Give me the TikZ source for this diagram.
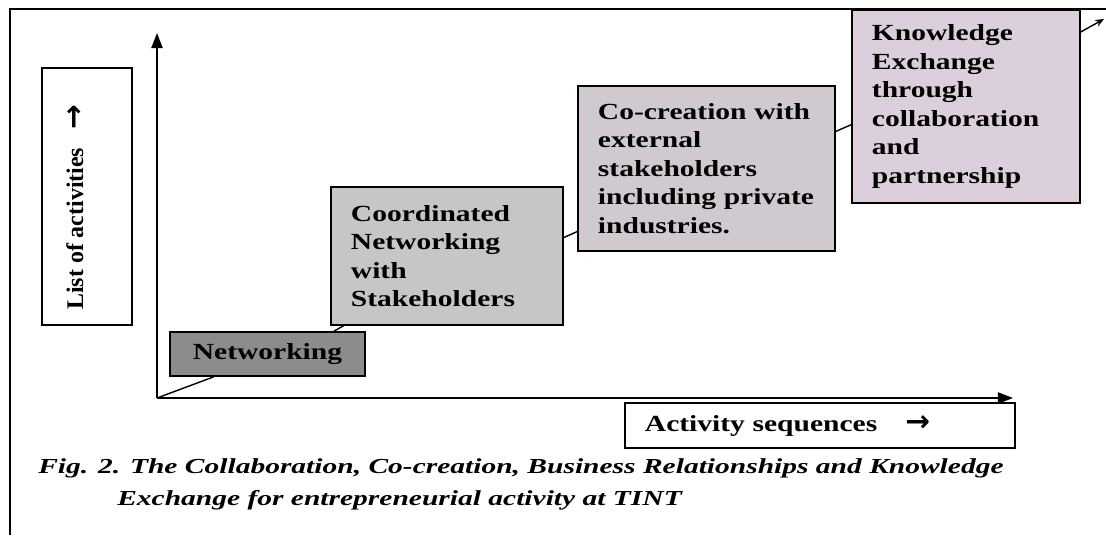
\documentclass[tikz,border=0pt]{standalone}
\usepackage{fontspec}
\setmainfont{Liberation Serif}
\newfontfamily\widefont[FakeStretch=1.28]{Liberation Serif}
\newfontfamily\capfont[FakeStretch=1.38]{Liberation Serif}
\newfontfamily\arrowfont{DejaVu Sans}
\usetikzlibrary{arrows.meta}

\definecolor{netgray}{RGB}{140,140,140}
\definecolor{coordgray}{RGB}{198,198,198}
\definecolor{cocrgray}{RGB}{208,202,208}
\definecolor{knowgray}{RGB}{218,207,218}

\newcommand{\rarrow}{{\arrowfont\bfseries\fontsize{21}{21}\selectfont →}}

\tikzset{
  stepbox/.style={draw, line width=1.2pt, inner xsep=0.5cm, inner ysep=0pt, align=left,
    font=\widefont\bfseries\fontsize{16.4}{20.3}\selectfont},
  framebox/.style={draw, line width=1.1pt},
  axis/.style={line width=1.4pt, -{Triangle[length=0.38cm,width=0.28cm]}},
  link/.style={line width=1pt},
  caption/.style={anchor=base west, inner sep=0pt, font=\capfont\bfseries\itshape\fontsize{15.2}{20}\selectfont},
}

\begin{document}
\begin{tikzpicture}[x=0.025cm,y=-0.025cm]
\useasboundingbox (0,0) rectangle (1106,535);
% frame
\coordinate (fbl) at (10,535);
\coordinate (ftl) at (10,9);
\coordinate (ftr) at (1106,9);
\draw[line width=1.2pt] (fbl) -- (ftl) -- (ftr);

% axes
\coordinate (O) at (157,398);
\coordinate (ytop) at (157,33);
\coordinate (xend) at (1013,398);
\draw[axis] (O) -- (ytop);
\draw[axis] (O) -- (xend);

% axis labels
\node[framebox, minimum width=2.25cm, minimum height=6.425cm] (list) at (87,196.5) {};
\node[rotate=90, anchor=base west, inner sep=0pt, font=\bfseries\fontsize{17}{20}\selectfont] (listlbl) at (83,310) {List of activities\hspace{0.45cm}\rarrow};
\node[framebox, minimum width=9.75cm, minimum height=1.125cm, text width=8.75cm, inner xsep=0.5cm, align=left,
  font=\widefont\bfseries\fontsize{16.4}{20}\selectfont] (act) at (820,425.5) {Activity sequences\hspace{0.7cm}\rarrow};

% steps
\node[stepbox, fill=netgray, minimum width=4.875cm, minimum height=1.1cm, text width=3.875cm, align=center] (net) at (267.5,354) {Networking};
\node[stepbox, fill=coordgray, minimum width=5.8cm, minimum height=3.45cm, text width=4.8cm] (coord) at (447,256) {Coordinated\\Networking\\with\\Stakeholders};
\node[stepbox, fill=cocrgray, minimum width=6.425cm, minimum height=4.125cm, text width=5.425cm] (cocr) at (706.5,168.5) {Co-creation with\\external\\stakeholders\\including private\\industries.};
\node[stepbox, fill=knowgray, minimum width=5.7cm, minimum height=4.825cm, text width=4.7cm] (know) at (966,106.5) {Knowledge\\Exchange\\through\\collaboration\\and\\partnership};

% links
\draw[link] (O) -- (net.203);
\draw[link] (net.19) -- (coord.214);
\draw[link] (coord.9) -- (cocr.206);
\draw[link] (cocr.16) -- (know.189);
\coordinate (kend) at (1104,19);
\draw[link, -{Stealth[length=0.22cm,width=0.18cm]}] (know.33) -- (kend);

% caption
\node[caption] (cap1) at (38,473) {Fig. 2. The Collaboration, Co-creation, Business Relationships and Knowledge};
\node[caption] (cap2) at (117,505) {Exchange for entrepreneurial activity at TINT};
\end{tikzpicture}
\end{document}
